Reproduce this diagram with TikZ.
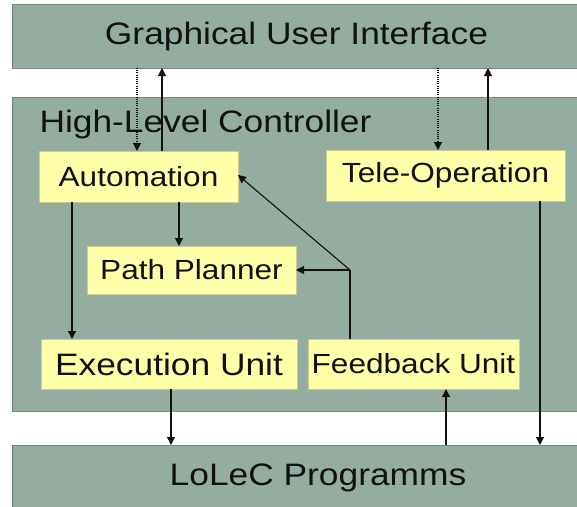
\documentclass[tikz,border=0pt]{standalone}
\usepackage{fontspec}
\setmainfont{Liberation Sans}[FakeStretch=1.14]
\usetikzlibrary{arrows.meta, positioning, calc}

\definecolor{panelgreen}{RGB}{149,173,160}
\definecolor{paneledge}{RGB}{118,134,126}
\definecolor{boxyellow}{RGB}{255,255,170}
\definecolor{boxedge}{RGB}{204,204,140}
\definecolor{ink}{RGB}{17,17,17}

\begin{document}
\begin{tikzpicture}[x=1pt, y=-1pt,
        band/.style={fill=panelgreen, draw=paneledge, line width=0.6pt, inner sep=0pt, outer sep=0pt,
            text=ink, font=\fontsize{31}{36}\selectfont},
        blk/.style={fill=boxyellow, draw=boxedge, line width=0.6pt, inner sep=0pt, outer sep=0pt,
            text=ink, minimum height=50pt, font=\fontsize{27.7}{32}\selectfont},
        big/.style={font=\fontsize{31}{36}\selectfont},
        e/.style={-{Triangle[length=8pt, width=8pt]}, line width=1.1pt, ink},
        dots/.style={dash pattern=on 1pt off 1.2pt}]
        \useasboundingbox (0,0) rectangle (577,506);

        % layers
        \draw node[band, minimum width=569, minimum height=64] (gui) at (296.5,36) {Graphical User Interface};
        \draw node[band, minimum width=568, minimum height=314] (hlc) at (296,254) {};
        \draw node[band, minimum width=612, minimum height=66] (lolec) at (318,478) {LoLeC Programms};
        \draw node[text=ink, anchor=base west, big] (hlclabel) at (36,132) {High-Level Controller};

        % blocks of the controller
        \draw node[blk, minimum width=199, minimum height=51] (auto) at (138.5,176.5) {Automation};
        \draw node[blk, minimum width=239, minimum height=51] (tele) at (445.5,175.5) {Tele-Operation};
        \draw node[blk, minimum width=209, minimum height=48] (plan) at (191.5,270) {Path Planner};
        \draw node[blk, big, minimum width=256] (exec) at (169,364) {Execution Unit};
        \draw node[blk, minimum width=211, right=11pt of exec] (feed) {Feedback Unit};

        % GUI <-> controller
        \draw[e, dots] ([xshift=-1.5]auto.north |- gui.south) -- ([xshift=-1.5]auto.north);
        \draw[e] ([xshift=23.5]auto.north) -- ([xshift=23.5]auto.north |- gui.south);
        \draw[e, dots] ([xshift=-7.5]tele.north |- gui.south) -- ([xshift=-7.5]tele.north);
        \draw[e] ([xshift=42.5]tele.north) -- ([xshift=42.5]tele.north |- gui.south);

        % inside the controller
        \draw[e] ([xshift=-66.5]auto.south) -- ([xshift=-66.5]auto.south |- exec.north);
        \draw[e] ([xshift=40.5]auto.south) -- ([xshift=40.5]auto.south |- plan.north);
        \coordinate (split) at ([xshift=-63.5]feed.north |- plan.east);
        \draw[line width=1.1pt, ink] ([xshift=-63.5]feed.north) -- (split);
        \draw[e] (split) -- (plan.east);
        \draw[e] (split) -- ([yshift=1.5]auto.east);

        % controller <-> programs
        \draw[e] ([xshift=2]exec.south) -- ([xshift=2]exec.south |- lolec.north);
        \draw[e] ([xshift=32.5]feed.south |- lolec.north) -- ([xshift=32.5]feed.south);
        \draw[e] ([xshift=94.5]tele.south) -- ([xshift=94.5]tele.south |- lolec.north);
\end{tikzpicture}
\end{document}
